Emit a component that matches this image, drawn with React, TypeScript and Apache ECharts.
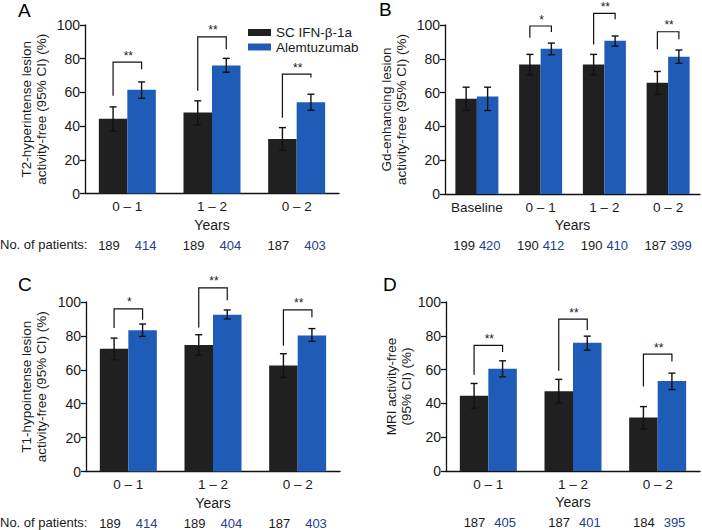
import { useEffect, useRef } from "react";
import * as echarts from "echarts";

const FONT = "'Liberation Sans', Arial, Helvetica, sans-serif";
const INK = "#1a1a1a";
const BAR_DARK = "#202020";
const BAR_BLUE = "#1f5cb8";
const NUM_BLUE = "#23408e";

const seriesNames = ["SC IFN-β-1a", "Alemtuzumab"];
const yearsCats = ["0 – 1", "1 – 2", "0 – 2"];
const yearsCatsB = ["Baseline", "0 – 1", "1 – 2", "0 – 2"];
const yTicks = [0, 20, 40, 60, 80, 100];

// Panel A: T2-hyperintense lesion activity-free
const aIfn = [44.3, 48.0, 32.4];
const aIfnLo = [37.0, 40.7, 25.7];
const aIfnHi = [51.4, 55.0, 39.1];
const aAlem = [61.5, 76.0, 54.2];
const aAlemLo = [56.5, 72.0, 49.4];
const aAlemHi = [66.2, 80.2, 58.9];
const aBracket = [78.0, 92.9, 70.8];
const aBracketLeft = [58.0, 61.0, 45.0];
const aBracketRight = [73.7, 85.6, 68.8];
const aStars = ["**", "**", "**"];
const aNIfn = ["189", "189", "187"];
const aNAlem = ["414", "404", "403"];

// Panel B: Gd-enhancing lesion activity-free
const bIfn = [56.3, 76.7, 76.7, 65.8];
const bIfnLo = [49.4, 70.6, 70.6, 58.9];
const bIfnHi = [63.2, 82.6, 82.6, 72.5];
const bAlem = [57.7, 86.0, 90.7, 81.2];
const bAlemLo = [49.4, 82.4, 87.5, 77.3];
const bAlemHi = [63.2, 89.3, 93.5, 85.2];
const bBracket = [null, 99.4, 106.9, 96.0];
const bBracketLeft = [null, 92.5, 88.5, 85.6];
const bBracketRight = [null, 95.8, 103.4, 91.5];
const bStars = ["", "*", "**", "**"];
const bNIfn = ["199", "190", "190", "187"];
const bNAlem = ["420", "412", "410", "399"];

// Panel C: T1-hypointense lesion activity-free
const cIfn = [72.4, 74.6, 62.6];
const cIfnLo = [65.9, 68.5, 55.5];
const cIfnHi = [78.7, 80.7, 69.5];
const cAlem = [83.3, 92.5, 80.3];
const cAlemLo = [79.7, 90.0, 76.8];
const cAlemHi = [87.0, 95.3, 84.3];
const cBracket = [96.0, 108.3, 95.3];
const cBracketLeft = [84.6, 85.0, 74.2];
const cBracketRight = [89.6, 101.0, 91.0];
const cStars = ["*", "**", "**"];
const cNIfn = ["189", "189", "187"];
const cNAlem = ["414", "404", "403"];

// Panel D: MRI activity-free
const dIfn = [44.5, 47.2, 31.6];
const dIfnLo = [37.2, 40.3, 24.9];
const dIfnHi = [51.8, 54.2, 38.1];
const dAlem = [60.5, 75.9, 53.2];
const dAlemLo = [55.7, 71.5, 48.2];
const dAlemHi = [65.2, 79.8, 57.9];
const dBracket = [74.3, 89.9, 69.2];
const dBracketLeft = [56.9, 59.3, 50.0];
const dBracketRight = [70.4, 83.4, 64.8];
const dStars = ["**", "**", "**"];
const dNIfn = ["187", "187", "184"];
const dNAlem = ["405", "401", "395"];

const panels = [
  {
    letter: "A", cats: yearsCats, ifn: aIfn, ifnLo: aIfnLo, ifnHi: aIfnHi, alem: aAlem, alemLo: aAlemLo, alemHi: aAlemHi,
    bracket: aBracket, bl: aBracketLeft, br: aBracketRight, stars: aStars, nIfn: aNIfn, nAlem: aNAlem,
    yName: "T2-hyperintense lesion\nactivity-free (95% CI) (%)",
    grid: { left: 85, top: 25, width: 254, height: 168.5 }, barW: 28.5, nameGap: 36, nGapL: 7.5, nGapR: 7.5,
    letterPos: [18, 10.5], showPatientsLabel: true,
  },
  {
    letter: "B", cats: yearsCatsB, ifn: bIfn, ifnLo: bIfnLo, ifnHi: bIfnHi, alem: bAlem, alemLo: bAlemLo, alemHi: bAlemHi,
    bracket: bBracket, bl: bBracketLeft, br: bBracketRight, stars: bStars, nIfn: bNIfn, nAlem: bNAlem,
    yName: "Gd-enhancing lesion\nactivity-free (95% CI) (%)",
    grid: { left: 445, top: 25, width: 255, height: 169 }, barW: 21.5, nameGap: 36, nGapL: 2, nGapR: 2,
    letterPos: [379, 9.5], showPatientsLabel: false,
  },
  {
    letter: "C", cats: yearsCats, ifn: cIfn, ifnLo: cIfnLo, ifnHi: cIfnHi, alem: cAlem, alemLo: cAlemLo, alemHi: cAlemHi,
    bracket: cBracket, bl: cBracketLeft, br: cBracketRight, stars: cStars, nIfn: cNIfn, nAlem: cNAlem,
    yName: "T1-hypointense lesion\nactivity-free (95% CI) (%)",
    grid: { left: 86, top: 302, width: 254, height: 169.5 }, barW: 28.5, nameGap: 37, nGapL: 7.5, nGapR: 7.5,
    letterPos: [18, 284], showPatientsLabel: true,
  },
  {
    letter: "D", cats: yearsCats, ifn: dIfn, ifnLo: dIfnLo, ifnHi: dIfnHi, alem: dAlem, alemLo: dAlemLo, alemHi: dAlemHi,
    bracket: dBracket, bl: dBracketLeft, br: dBracketRight, stars: dStars, nIfn: dNIfn, nAlem: dNAlem,
    yName: "MRI activity-free\n(95% CI) (%)",
    grid: { left: 446, top: 302, width: 254, height: 169 }, barW: 28.5, nameGap: 30, nGapL: 3, nGapR: 6,
    letterPos: [383, 284], showPatientsLabel: false,
  },
];

function makeRenderer(p: any) {
  return (params: any, api: any) => {
    const i = params.dataIndex;
    const base = api.coord([i, 0]);
    const cx = base[0];
    const xL = cx - p.barW / 2;
    const xR = cx + p.barW / 2;
    const children: any[] = [];
    const lineStyle = { stroke: "#111", lineWidth: 1.4 };
    const err = (x: number, lo: number, hi: number) => {
      const yLo = api.coord([i, lo])[1];
      const yHi = api.coord([i, hi])[1];
      const cap = 3.5;
      children.push({ type: "line", shape: { x1: x, y1: yLo, x2: x, y2: yHi }, style: lineStyle });
      children.push({ type: "line", shape: { x1: x - cap, y1: yLo, x2: x + cap, y2: yLo }, style: lineStyle });
      children.push({ type: "line", shape: { x1: x - cap, y1: yHi, x2: x + cap, y2: yHi }, style: lineStyle });
    };
    err(xL, p.ifnLo[i], p.ifnHi[i]);
    err(xR, p.alemLo[i], p.alemHi[i]);
    if (p.bracket[i] != null) {
      const yb = api.coord([i, p.bracket[i]])[1];
      const yl = api.coord([i, p.bl[i]])[1];
      const yr = api.coord([i, p.br[i]])[1];
      children.push({
        type: "polyline",
        shape: { points: [[xL, yl], [xL, yb], [xR, yb], [xR, yr]] },
        style: { stroke: "#111", lineWidth: 1.2, fill: "none" },
      });
      children.push({
        type: "text",
        style: {
          text: p.stars[i], x: cx + 1, y: yb - 6.5, align: "center", verticalAlign: "middle",
          fontSize: 12, lineHeight: 8, fontFamily: FONT, fill: INK,
        },
      });
    }
    const yN = base[1] + 51.5;
    children.push({
      type: "text",
      style: { text: p.nIfn[i], x: cx - p.nGapL, y: yN, align: "right", verticalAlign: "middle", fontSize: 13, fontFamily: FONT, fill: INK },
    });
    children.push({
      type: "text",
      style: { text: p.nAlem[i], x: cx + p.nGapR, y: yN, align: "left", verticalAlign: "middle", fontSize: 13, fontFamily: FONT, fill: NUM_BLUE },
    });
    return { type: "group", children };
  };
}

function buildOption() {
  const grid: any[] = [];
  const xAxis: any[] = [];
  const yAxis: any[] = [];
  const series: any[] = [];
  const graphic: any[] = [];
  panels.forEach((p, k) => {
    grid.push({ ...p.grid, containLabel: false });
    xAxis.push({
      type: "category",
      gridIndex: k,
      data: p.cats,
      boundaryGap: true,
      name: "Years",
      nameLocation: "middle",
      nameGap: 24,
      nameTextStyle: { fontSize: 14, fontFamily: FONT, color: INK },
      axisLine: { show: true, lineStyle: { color: "#111", width: 1.3 } },
      axisTick: { show: false },
      axisLabel: { interval: 0, margin: 6, fontSize: 13.5, fontFamily: FONT, color: INK },
      splitLine: { show: false },
    });
    yAxis.push({
      type: "value",
      gridIndex: k,
      min: 0,
      max: 100,
      interval: 20,
      name: p.yName,
      nameLocation: "middle",
      nameGap: p.nameGap,
      nameTextStyle: { fontSize: 13.5, lineHeight: 15, fontFamily: FONT, color: INK, align: "center" },
      axisLine: { show: true, lineStyle: { color: "#111", width: 1.3 } },
      axisTick: { show: true, inside: false, length: 5, lineStyle: { color: "#111", width: 1.3 } },
      axisLabel: {
        margin: 5, fontSize: 14, fontFamily: FONT, color: INK,
        formatter: (v: number) => (yTicks.includes(v) ? String(v) : ""),
      },
      splitLine: { show: false },
    });
    series.push({
      type: "bar", name: seriesNames[0], xAxisIndex: k, yAxisIndex: k, data: p.ifn,
      barWidth: p.barW, barGap: "0%", itemStyle: { color: BAR_DARK }, silent: true,
    });
    series.push({
      type: "bar", name: seriesNames[1], xAxisIndex: k, yAxisIndex: k, data: p.alem,
      barWidth: p.barW, barGap: "0%", itemStyle: { color: BAR_BLUE }, silent: true,
    });
    series.push({
      type: "custom", name: "annot" + k, xAxisIndex: k, yAxisIndex: k, clip: false, z: 5, silent: true,
      data: p.cats.map((_, i) => [i, 0]),
      encode: { x: 0, y: 1 },
      renderItem: makeRenderer(p),
    });
    graphic.push({
      type: "text", left: p.letterPos[0], top: p.letterPos[1] - 9.5,
      style: { text: p.letter, fontSize: 19, fontFamily: FONT, fill: "#000" },
    });
    if (p.showPatientsLabel) {
      graphic.push({
        type: "text", left: 0, top: p.grid.top + p.grid.height + 51.5 - 7.5,
        style: { text: "No. of patients:", fontSize: 13, fontFamily: FONT, fill: INK },
      });
    }
  });
  return {
    animation: false,
    backgroundColor: "#fff",
    textStyle: { fontFamily: FONT },
    grid, xAxis, yAxis, series, graphic,
    legend: {
      data: seriesNames,
      orient: "vertical",
      left: 243,
      top: 20.5,
      itemWidth: 23,
      itemHeight: 7,
      itemGap: 0.5,
      icon: "rect",
      selectedMode: false,
      textStyle: { fontSize: 13.5, lineHeight: 13, fontFamily: FONT, color: INK },
    },
  };
}

export default function App() {
  const ref = useRef<HTMLDivElement>(null);
  useEffect(() => {
    if (!ref.current) return;
    const chart = echarts.init(ref.current, undefined, { renderer: "svg" });
    chart.setOption(buildOption() as any);
    return () => chart.dispose();
  }, []);
  return <div ref={ref} style={{ position: "fixed", left: 0, top: 0, width: 702, height: 530 }} />;
}
